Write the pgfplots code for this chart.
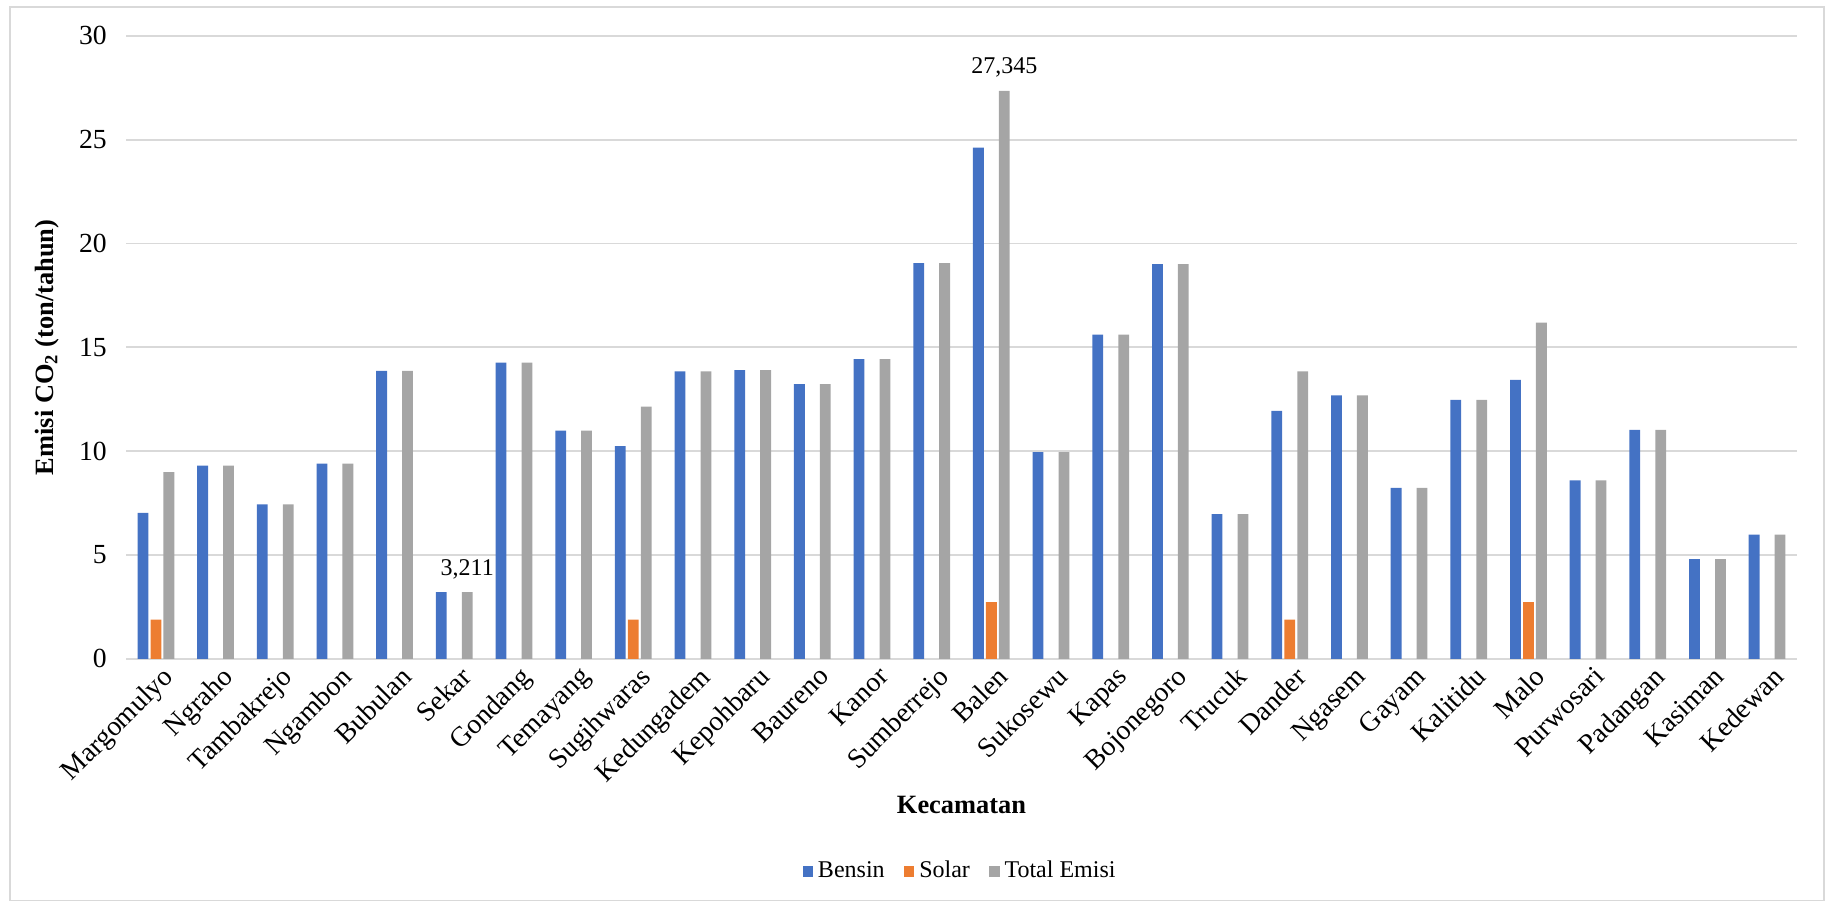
\documentclass[border=0pt]{standalone}
\usepackage{pgfplots}
\pgfplotsset{compat=1.18}
\usepackage{fontspec}
\setmainfont{Liberation Serif}
\definecolor{cB}{HTML}{4472C4}
\definecolor{cS}{HTML}{ED7D31}
\definecolor{cT}{HTML}{A5A5A5}
\definecolor{cG}{HTML}{D9D9D9}
\pgfplotsset{sqlegend/.style={legend image code/.code={\fill[##1] (0pt,-2.2pt) rectangle (4.4pt,2.2pt);}}}
\begin{document}
\begin{tikzpicture}
\begin{axis}[name=ax, scale only axis, width=695.8pt, height=259.5pt,
  ybar=0.9pt, bar width=4.5pt,
  xmin=-0.5, xmax=27.5, ymin=0, ymax=30, enlargelimits=false,
  xtick={0,...,27},
  xticklabels={Margomulyo,Ngraho,Tambakrejo,Ngambon,Bubulan,Sekar,Gondang,Temayang,Sugihwaras,Kedungadem,Kepohbaru,Baureno,Kanor,Sumberrejo,Balen,Sukosewu,Kapas,Bojonegoro,Trucuk,Dander,Ngasem,Gayam,Kalitidu,Malo,Purwosari,Padangan,Kasiman,Kedewan},
  xticklabel style={rotate=45, anchor=north east, font=\fontsize{11.6}{13}\selectfont, inner sep=1pt, xshift=3.8pt, yshift=1pt},
  ytick={0,5,...,30},
  yticklabel style={font=\fontsize{11.5}{13}\selectfont, xshift=-4.5pt},
  /pgf/number format/assume math mode=true,
  ymajorgrids, grid style={cG, line width=0.8pt},
  axis line style={draw=none}, major tick style={draw=none},
  xlabel={\textbf{Kecamatan}},
  ylabel={\textbf{Emisi CO\textsubscript{2} (ton/tahun)}},
  label style={font=\fontsize{11}{13}\selectfont},
  xlabel style={at={(axis description cs:0.5,-0.235)}, anchor=center},
  ylabel style={at={(axis description cs:-0.0473,0.5)}, anchor=center},
  legend style={at={(axis description cs:0.5,-0.341)}, anchor=center, draw=none,
    legend columns=-1, font=\fontsize{10}{12}\selectfont,
    /tikz/every even column/.append style={column sep=6pt}},
]
\addplot[fill=cB, draw=none, sqlegend] coordinates {
(0,7.03) (1,9.31) (2,7.44) (3,9.40) (4,13.87) (5,3.211) (6,14.26) (7,10.99)
(8,10.24) (9,13.85) (10,13.91) (11,13.23) (12,14.43) (13,19.05) (14,24.61)
(15,9.96) (16,15.61) (17,19.01) (18,6.97) (19,11.94) (20,12.69) (21,8.24)
(22,12.47) (23,13.44) (24,8.60) (25,11.03) (26,4.80) (27,5.98)};
\addplot[fill=cS, draw=none, sqlegend] coordinates {
(0,1.89) (8,1.89) (14,2.73) (19,1.89) (23,2.73)};
\addplot[fill=cT, draw=none, sqlegend,
  point meta=explicit symbolic,
  nodes near coords={\pgfplotspointmeta},
  nodes near coords style={font=\fontsize{10}{12}\selectfont, text=black, yshift=2pt}] coordinates {
(0,8.99) [] (1,9.31) [] (2,7.44) [] (3,9.40) [] (4,13.87) [] (5,3.211) [3,211] (6,14.26) [] (7,10.99) []
(8,12.15) [] (9,13.85) [] (10,13.91) [] (11,13.23) [] (12,14.43) [] (13,19.05) [] (14,27.345) [27,345]
(15,9.96) [] (16,15.61) [] (17,19.01) [] (18,6.97) [] (19,13.85) [] (20,12.69) [] (21,8.24) []
(22,12.47) [] (23,16.19) [] (24,8.60) [] (25,11.03) [] (26,4.80) [] (27,5.98) []};
\legend{Bensin,Solar,Total Emisi}
\end{axis}
\draw[cG, line width=0.8pt] ([xshift=-48.3pt,yshift=-100.6pt]ax.south west) rectangle ([xshift=11.3pt,yshift=12pt]ax.north east);
\path ([xshift=-52.5pt,yshift=-103.5pt]ax.south west) rectangle ([xshift=14.6pt,yshift=14.9pt]ax.north east);
\end{tikzpicture}
\end{document}
